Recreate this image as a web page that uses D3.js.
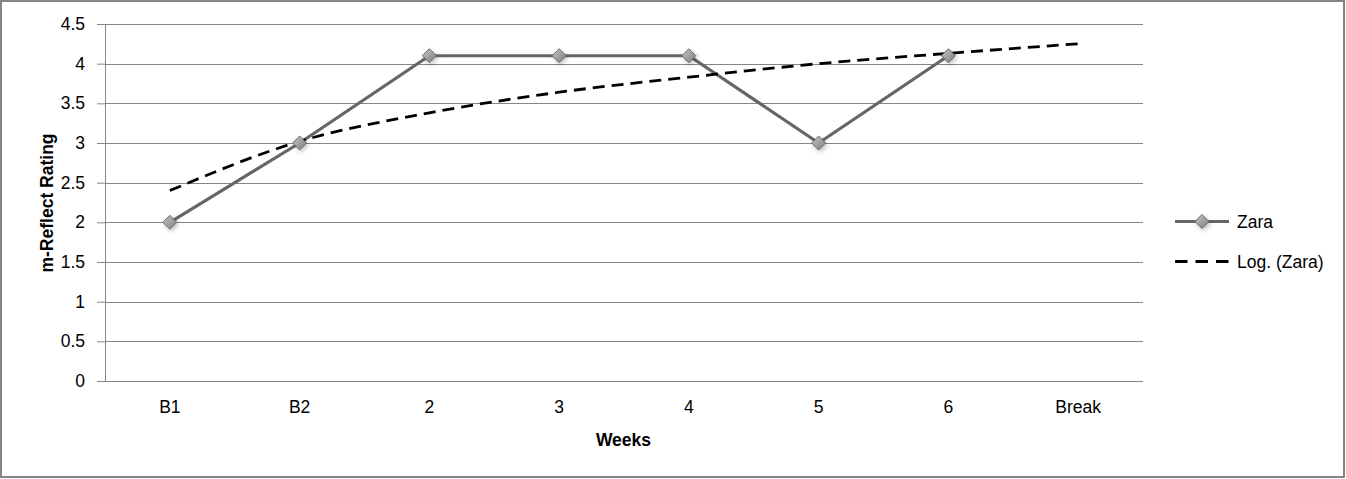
<!DOCTYPE html>
<html><head><meta charset="utf-8">
<script src="https://cdn.jsdelivr.net/npm/d3@7"></script>
<style>
html,body{margin:0;padding:0;background:#fff;}
svg{display:block;font-family:"Liberation Sans",Arial,sans-serif;}
</style></head>
<body>
<svg id="chart" width="1346" height="479"></svg>
<script>
const categories = ["B1","B2","2","3","4","5","6","Break"];
const seriesName = "Zara";
const zaraValues = [2, 3, 4.1, 4.1, 4.1, 3, 4.1];
const trendName = "Log. (Zara)";
const trendValues = [2.40, 3.02, 3.38, 3.64, 3.83, 4.00, 4.13, 4.25];
const yTicks = [0, 0.5, 1, 1.5, 2, 2.5, 3, 3.5, 4, 4.5];
const xTitle = "Weeks";
const yTitle = "m-Reflect Rating";

const FONT = "\"Liberation Sans\",Arial,sans-serif";
const FS = "17.5px";

const svg = d3.select("#chart");
const W = 1346, H = 479;
const m = {left:105, right:1143, top:24, bottom:381};

// outer frame
svg.append("rect").attr("x",1).attr("y",1).attr("width",W-3).attr("height",H-3)
  .attr("fill","#fff").attr("stroke","#858585").attr("stroke-width",2);

const x = d3.scaleBand().domain(categories).range([m.left, m.right]);
const y = d3.scaleLinear().domain([0, 4.5]).range([m.bottom, m.top]);

const defs = svg.append("defs");
const grad = defs.append("linearGradient").attr("id","mk").attr("x1","0").attr("y1","0").attr("x2","1").attr("y2","1");
grad.append("stop").attr("offset","0%").attr("stop-color","#c8c8c8");
grad.append("stop").attr("offset","100%").attr("stop-color","#7a7a7a");
const flt = defs.append("filter").attr("id","sh").attr("x","-50%").attr("y","-50%").attr("width","200%").attr("height","200%");
flt.append("feDropShadow").attr("dx",1.5).attr("dy",2).attr("stdDeviation",2).attr("flood-color","#000").attr("flood-opacity",0.25);

// y axis + gridlines
const yAxis = d3.axisLeft(y).tickValues(yTicks).tickSize(8).tickPadding(12)
  .tickFormat(d => d3.format("")(d));
const gy = svg.append("g").attr("transform",`translate(${m.left},0)`).call(yAxis);
gy.select(".domain").attr("stroke","#868686");
gy.selectAll(".tick line").attr("stroke","#868686");
gy.selectAll(".tick text").attr("fill","#000").style("font-size",FS).style("font-family",FONT);
svg.append("g").selectAll("line").data(yTicks).join("line")
  .attr("x1",m.left).attr("x2",m.right)
  .attr("y1",d=>Math.round(y(d))+0.5).attr("y2",d=>Math.round(y(d))+0.5)
  .attr("stroke","#868686").attr("stroke-width",1);

// x axis labels
const xAxis = d3.axisBottom(x).tickSize(0).tickPadding(20);
const gx = svg.append("g").attr("transform",`translate(0,${m.bottom})`).call(xAxis);
gx.select(".domain").remove();
gx.selectAll(".tick text").attr("fill","#000").style("font-size",FS).style("font-family",FONT);

// titles
svg.append("text").attr("x",623.5).attr("y",446).attr("text-anchor","middle")
  .style("font-weight","bold").style("font-size",FS).text(xTitle);
svg.append("text").attr("transform",`translate(53,203) rotate(-90)`).attr("text-anchor","middle")
  .style("font-weight","bold").style("font-size",FS).text(yTitle);

const cx = d => x(d) + x.bandwidth()/2;

// series line
const line = d3.line().x((d,i)=>cx(categories[i])).y(d=>y(d));
svg.append("path").datum(zaraValues).attr("d",line).attr("fill","none")
  .attr("stroke","#666666").attr("stroke-width",3.2).attr("stroke-linejoin","round");

// trendline
const tline = d3.line().x((d,i)=>cx(categories[i])).y(d=>y(d)).curve(d3.curveMonotoneX);
svg.append("path").datum(trendValues).attr("d",tline).attr("fill","none")
  .attr("stroke","#000").attr("stroke-width",2.8).attr("stroke-dasharray","12,7");

// markers
function drawMarker(g, px, py){
  g.append("path").attr("d","M0,-7L7,0L0,7L-7,0Z")
    .attr("transform",`translate(${px},${py})`)
    .attr("fill","url(#mk)").attr("stroke","#6a6a6a").attr("stroke-width",1).attr("filter","url(#sh)");
}
const mg = svg.append("g");
zaraValues.forEach((v,i)=>drawMarker(mg, cx(categories[i]), y(v)));

// legend
const lg = svg.append("g");
lg.append("line").attr("x1",1175).attr("x2",1229).attr("y1",221.5).attr("y2",221.5)
  .attr("stroke","#666666").attr("stroke-width",3.2);
drawMarker(lg, 1202, 221.5);
lg.append("text").attr("x",1237).attr("y",228).style("font-size",FS).text(seriesName);
lg.append("line").attr("x1",1175).attr("x2",1229).attr("y1",261.5).attr("y2",261.5)
  .attr("stroke","#000").attr("stroke-width",2.8).attr("stroke-dasharray","12.5,8");
lg.append("text").attr("x",1237).attr("y",268).style("font-size",FS).text(trendName);
</script>
</body></html>
